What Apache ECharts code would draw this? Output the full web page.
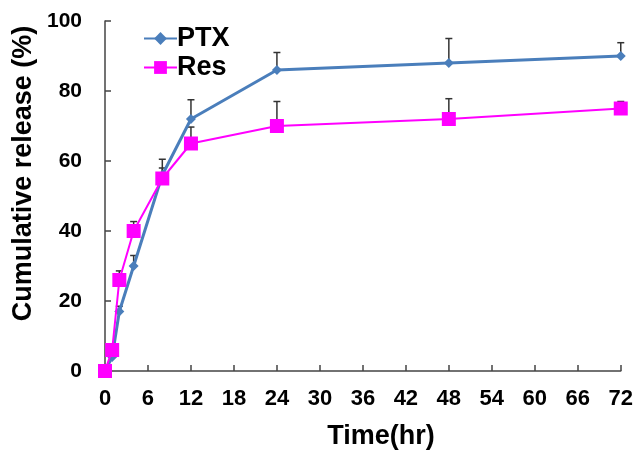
<!DOCTYPE html>
<html>
<head>
<meta charset="utf-8">
<script src="https://cdn.jsdelivr.net/npm/echarts@6/dist/echarts.min.js"></script>
<style>html,body{margin:0;padding:0;background:#fff}#c{width:636px;height:450px}</style>
</head>
<body>
<div id="c"></div>
<script>
var time = [0, 1, 2, 4, 8, 12, 24, 48, 72];
var ptx = [0, 4, 17, 30, 56, 72, 86, 88, 90];
var ptxErr = [0, 0.5, 1.5, 3, 4.5, 5.5, 5, 7, 3.8];
var res = [0, 6, 26, 40, 55, 65, 70, 72, 75];
var resErr = [0, 0.5, 2.6, 2.7, 3, 4.7, 7, 5.8, 2];
var xTicks = [0, 6, 12, 18, 24, 30, 36, 42, 48, 54, 60, 66, 72];

var FONT = '"Liberation Sans", Arial, sans-serif';
var chart = echarts.init(document.getElementById('c'));

function pairs(vals) { return time.map(function (t, i) { return [t, vals[i]]; }); }
function errData(vals, errs) { return time.map(function (t, i) { return [t, vals[i], vals[i] + errs[i]]; }); }

function errRender(params, api) {
  var x = api.value(0), y = api.value(1), yt = api.value(2);
  var p0 = api.coord([x, y]);
  var p1 = api.coord([x, yt]);
  var hw = 3.5;
  var st = { stroke: '#333', lineWidth: 1.5 };
  return {
    type: 'group',
    children: [
      { type: 'line', shape: { x1: p0[0], y1: p0[1], x2: p1[0], y2: p1[1] }, style: st },
      { type: 'line', shape: { x1: p1[0] - hw, y1: p1[1], x2: p1[0] + hw, y2: p1[1] }, style: st }
    ]
  };
}

chart.setOption({
  animation: false,
  backgroundColor: '#fff',
  textStyle: { fontFamily: FONT },
  grid: { left: 105, right: 15, top: 21, bottom: 79, containLabel: false },
  legend: {
    left: 138, top: 20, orient: 'vertical', itemGap: 2, itemWidth: 33, itemHeight: 16,
    data: ['PTX', 'Res'],
    textStyle: { fontFamily: FONT, fontWeight: 'bold', fontSize: 27, color: '#000', padding: [0, 0, 0, -5] }
  },
  xAxis: {
    type: 'value', min: 0, max: 72, interval: 6,
    axisLine: { lineStyle: { color: '#444', width: 1.5 } },
    axisTick: { inside: true, length: 6, lineStyle: { color: '#444', width: 1.5 } },
    splitLine: { show: false },
    axisLabel: {
      margin: 17, fontFamily: FONT, fontWeight: 'bold', fontSize: 22, color: '#000',
      customValues: xTicks
    }
  },
  yAxis: {
    type: 'value', min: 0, max: 100, interval: 20,
    axisLine: { show: true, lineStyle: { color: '#444', width: 1.5 } },
    axisTick: { show: true, inside: true, length: 6, lineStyle: { color: '#444', width: 1.5 } },
    splitLine: { show: false },
    axisLabel: { margin: 23, fontFamily: FONT, fontWeight: 'bold', fontSize: 21, color: '#000' }
  },
  graphic: [
    {
      type: 'text', x: 24, y: 173.5, rotation: Math.PI / 2,
      style: { text: 'Cumulative release (%)', fontFamily: FONT, fontWeight: 'bold', fontSize: 27,
        fill: '#000', align: 'center', verticalAlign: 'middle' }
    },
    {
      type: 'text', x: 381, y: 437,
      style: { text: 'Time(hr)', fontFamily: FONT, fontWeight: 'bold', fontSize: 27,
        fill: '#000', align: 'center', verticalAlign: 'middle' }
    }
  ],
  series: [
    {
      type: 'custom', name: 'ptxErr', renderItem: errRender, data: errData(ptx, ptxErr),
      encode: { x: 0, y: [1, 2] }, z: 1, clip: false, silent: true
    },
    {
      type: 'custom', name: 'resErr', renderItem: errRender, data: errData(res, resErr),
      encode: { x: 0, y: [1, 2] }, z: 1, clip: false, silent: true
    },
    {
      name: 'PTX', type: 'line', data: pairs(ptx), symbol: 'diamond', symbolSize: 10,
      clip: false, z: 3,
      itemStyle: { color: '#4A7EBB' }, lineStyle: { color: '#4A7EBB', width: 3 }
    },
    {
      name: 'Res', type: 'line', data: pairs(res), symbol: 'rect', symbolSize: 14,
      clip: false, z: 4,
      itemStyle: { color: '#FF00FF' }, lineStyle: { color: '#FF00FF', width: 2 }
    }
  ]
});
</script>
</body>
</html>
